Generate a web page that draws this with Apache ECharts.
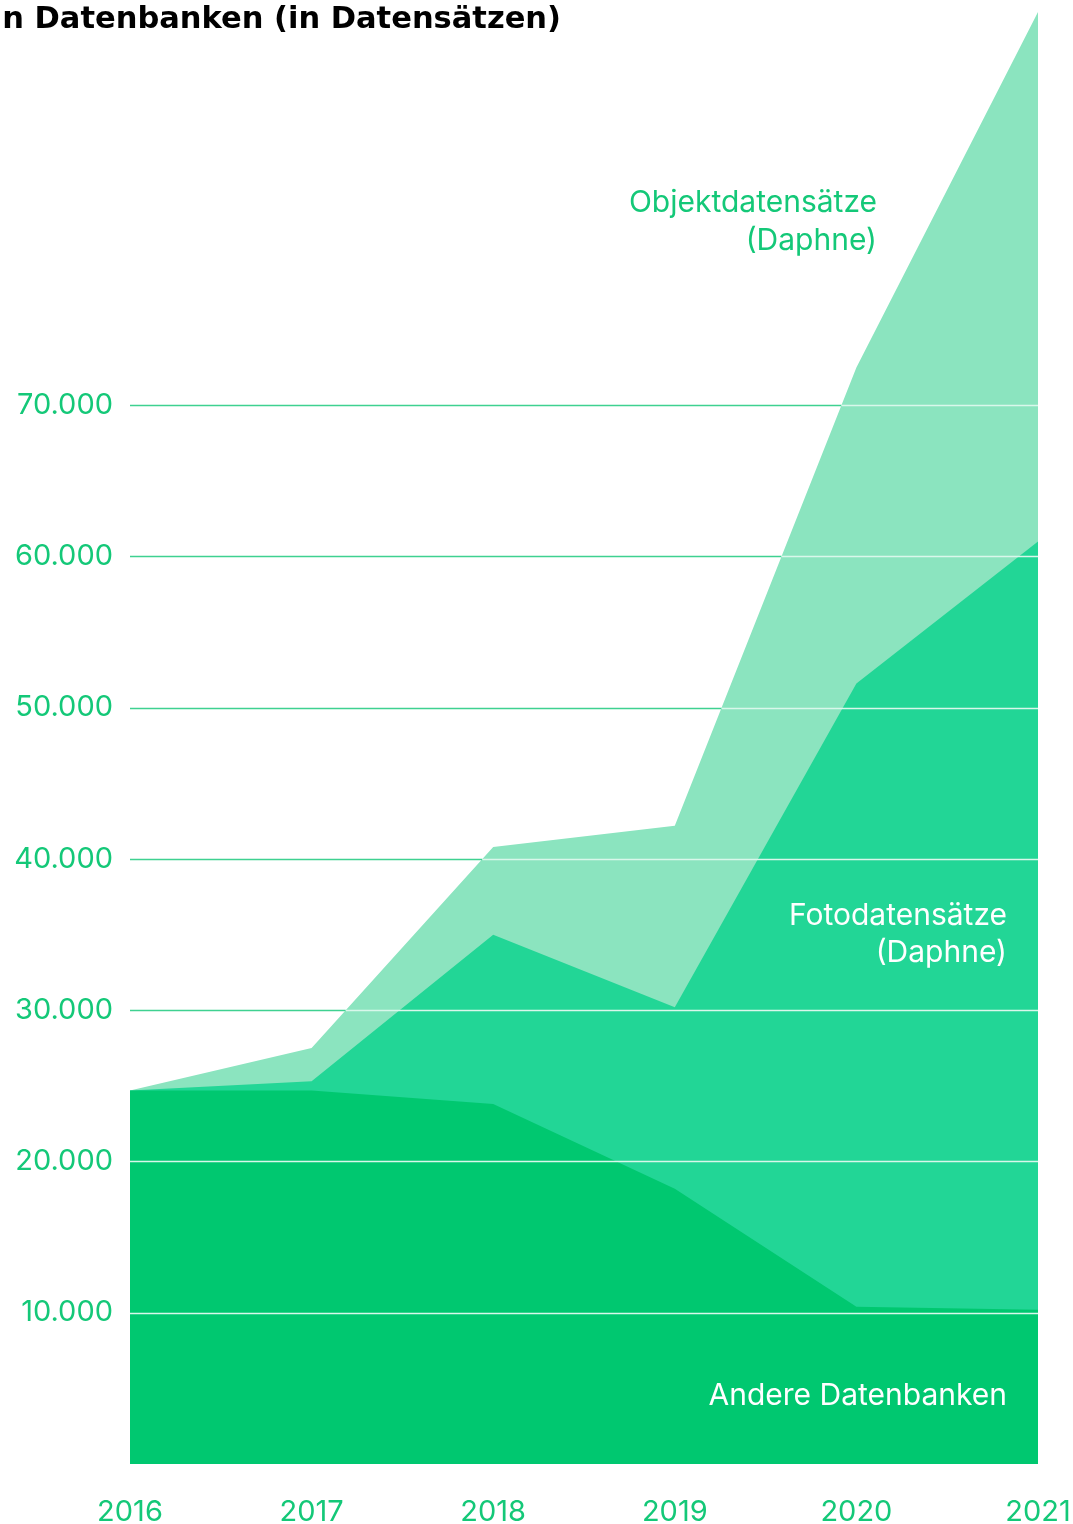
<!DOCTYPE html>
<html>
<head>
<meta charset="utf-8">
<script src="https://cdn.jsdelivr.net/npm/echarts@6/dist/echarts.min.js"></script>
<style>
  html, body { margin: 0; padding: 0; background: #ffffff; }
  #chart { width: 1073px; height: 1524px; }
</style>
</head>
<body>
<div id="chart"></div>
<script>
// Datensätze pro Jahr
const years = [2016, 2017, 2018, 2019, 2020, 2021];
const andere = [24700, 24700, 23800, 18200, 10400, 10200];
const foto   = [0, 600, 11200, 12000, 41200, 50800];
const objekt = [0, 2200, 5800, 12000, 20900, 35000];
const gridValues = [10000, 20000, 30000, 40000, 50000, 60000, 70000];

const FONT = 'Inter';
const GREEN_TEXT = '#14c878';
const C_ANDERE = '#00c870';
const C_FOTO = '#22d696';
const C_OBJEKT = '#8be4bf';

// cumulative layers: each area is filled from zero, drawn back to front
const layerAndere = andere.slice();
const layerFoto = years.map((_, i) => andere[i] + foto[i]);
const totals = years.map((_, i) => andere[i] + foto[i] + objekt[i]);

// x position where the stacked total first reaches a given value
function crossing(v) {
  if (totals[0] >= v) return years[0];
  for (let i = 1; i < years.length; i++) {
    if (totals[i] >= v) {
      const t = (v - totals[i - 1]) / (totals[i] - totals[i - 1]);
      return years[i - 1] + t * (years[i] - years[i - 1]);
    }
  }
  return years[years.length - 1];
}

// grid lines: green over the white background, pale over the filled areas
const lineOnWhite = [];
const lineOnArea = [];
gridValues.forEach(v => {
  const xc = crossing(v);
  if (xc > years[0]) lineOnWhite.push({ coords: [[years[0], v], [xc, v]] });
  if (xc < years[years.length - 1]) lineOnArea.push({ coords: [[xc, v], [years[years.length - 1], v]] });
});

const pairs = arr => years.map((y, i) => [y, arr[i]]);

function areaSeries(name, data, color, z) {
  return {
    name, type: 'line', data: pairs(data),
    symbol: 'none', silent: true, z,
    lineStyle: { width: 0 },
    areaStyle: { color, opacity: 1, origin: 'start' }
  };
}

const chart = echarts.init(document.getElementById('chart'), null, { renderer: 'canvas' });
chart.setOption({
  animation: false,
  grid: { left: 130, right: 35, top: 12, bottom: 60, containLabel: false, outerBoundsMode: 'none' },
  xAxis: {
    type: 'value', min: 2016, max: 2021, interval: 1,
    axisLine: { show: false }, axisTick: { show: false }, splitLine: { show: false },
    axisLabel: {
      color: GREEN_TEXT, fontFamily: FONT, fontSize: 29, margin: 34,
      showMinLabel: true, showMaxLabel: true, hideOverlap: false,
      formatter: v => String(v)
    }
  },
  yAxis: {
    type: 'value', min: 0, max: 96000, interval: 10000,
    axisLine: { show: false }, axisTick: { show: false }, splitLine: { show: false },
    axisLabel: {
      color: GREEN_TEXT, fontFamily: FONT, fontSize: 29, margin: 17,
      formatter: v => (v > 0 && v <= 70000) ? v.toLocaleString('de-DE') : ''
    }
  },
  series: [
    areaSeries('Objektdatensätze (Daphne)', totals, C_OBJEKT, 2),
    areaSeries('Fotodatensätze (Daphne)', layerFoto, C_FOTO, 3),
    areaSeries('Andere Datenbanken', layerAndere, C_ANDERE, 4),
    {
      type: 'lines', coordinateSystem: 'cartesian2d', polyline: false, silent: true, z: 5,
      lineStyle: { color: '#3fd191', width: 1.4, opacity: 1 },
      data: lineOnWhite
    },
    {
      type: 'lines', coordinateSystem: 'cartesian2d', polyline: false, silent: true, z: 5,
      lineStyle: { color: '#d9f7eb', width: 1.4, opacity: 1 },
      data: lineOnArea
    }
  ],
  graphic: [
    {
      type: 'text', x: 561, y: 20, z: 10,
      style: { text: 'n Datenbanken (in Datensätzen)', fill: '#000000',
        font: 'bold 30.5px "DejaVu Sans"', align: 'right', verticalAlign: 'middle' }
    },
    {
      type: 'text', x: 877, y: 222, z: 10,
      style: { text: 'Objektdatensätze\n(Daphne)', fill: GREEN_TEXT,
        font: '30px Inter', align: 'right', verticalAlign: 'middle', lineHeight: 38 }
    },
    {
      type: 'text', x: 1007, y: 934, z: 10,
      style: { text: 'Fotodatensätze\n(Daphne)', fill: '#ffffff',
        font: '30px Inter', align: 'right', verticalAlign: 'middle', lineHeight: 37 }
    },
    {
      type: 'text', x: 1007, y: 1396, z: 10,
      style: { text: 'Andere Datenbanken', fill: '#ffffff',
        font: '30px Inter', align: 'right', verticalAlign: 'middle' }
    }
  ]
});
</script>
</body>
</html>
